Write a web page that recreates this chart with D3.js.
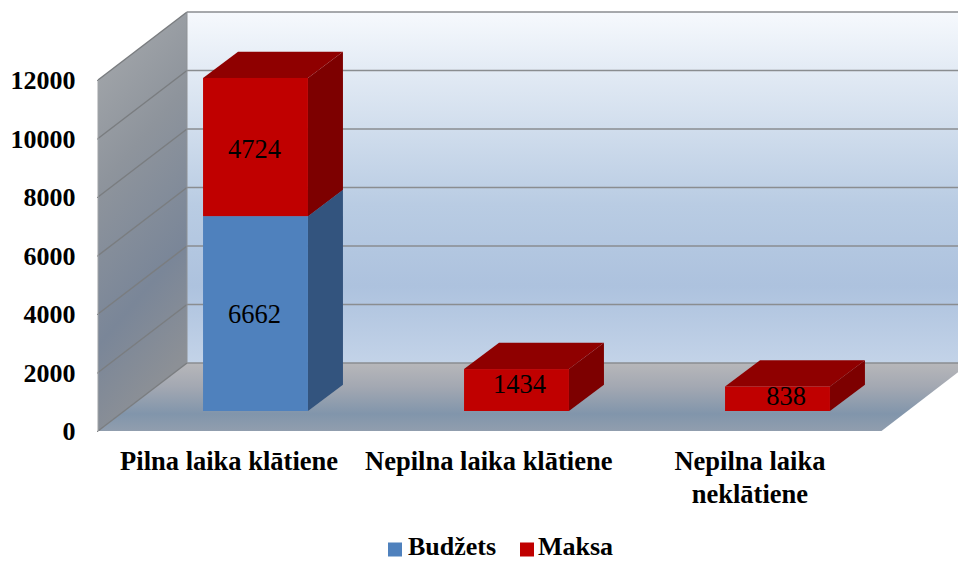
<!DOCTYPE html>
<html><head><meta charset="utf-8">
<script src="https://cdn.jsdelivr.net/npm/d3@7"></script>
<style>html,body{margin:0;padding:0;background:#fff}svg{display:block}text{font-family:"Liberation Serif",serif}</style>
</head><body><svg id="c" width="958" height="561"></svg>
<script>
const categories = [["Pilna laika klātiene"],["Nepilna laika klātiene"],["Nepilna laika","neklātiene"]];
const budzets = [6662, 0, 0];
const maksa = [4724, 1434, 838];
const tickValues = [0,2000,4000,6000,8000,10000,12000];
const seriesNames = ["Budžets","Maksa"];
const seriesColors = {front:["#4f81bd","#c00000"],top:["#3a6090","#8f0000"],side:["#33547e","#7d0000"]};

const svg = d3.select("#c"), defs = svg.append("defs");
const W = 958;
const D = {dx:89, dy:-68};          // full floor depth
const B = {dx:35, dy:-26.3};        // bar depth
const x0 = 98, floorY = 431, barBase = 411, barLeft = 125;
const y = d3.scaleLinear().domain([0,12000]).range([floorY,80]);
const h = v => y(0)-y(v);
const xb = d3.scaleBand().domain(d3.range(categories.length)).range([barLeft,barLeft+783]).paddingInner(0.598).paddingOuter(0.299);
const backX = x0+D.dx, backY0 = floorY+D.dy, backRight = 970;
const pts = a => a.map(p=>p.join(",")).join(" ");

function grad(id,stops,x1=0,y1=0,x2=0,y2=1){
  const g=defs.append("linearGradient").attr("id",id).attr("x1",x1).attr("y1",y1).attr("x2",x2).attr("y2",y2);
  stops.forEach(([o,c])=>g.append("stop").attr("offset",o).attr("stop-color",c));
}
grad("back",[[0,"#f6f9fd"],[.2,"#dfe8f3"],[.55,"#b9cce3"],[.78,"#adc2de"],[1,"#c3d3e8"]]);
grad("left",[[0,"#a8abae"],[.4,"#8e949c"],[.75,"#7a8698"],[1,"#8c9096"]],0,0,.25,1);
grad("floor",[[0,"#b7b7ba"],[.35,"#a3a8b2"],[.75,"#8195ab"],[1,"#919eae"]]);

// back wall
svg.append("polygon").attr("points",pts([[backX,backY0-h(12000)],[backRight,backY0-h(12000)],[backRight,backY0],[backX,backY0]])).attr("fill","url(#back)");
// floor
svg.append("polygon").attr("points",pts([[x0,floorY],[backX,backY0],[backRight,backY0],[881.5,floorY]])).attr("fill","url(#floor)");
// left wall
svg.append("polygon").attr("points",pts([[x0,y(12000)],[backX,y(12000)+D.dy],[backX,backY0],[x0,floorY]])).attr("fill","url(#left)");

// gridlines
const grid = svg.append("g");
tickValues.forEach(t=>{
  const yy=y(t), by=yy+D.dy;
  grid.append("line").attr("x1",x0).attr("y1",yy).attr("x2",backX).attr("y2",by).attr("stroke","#7a7d80").attr("stroke-width",1.5);
  grid.append("line").attr("x1",backX).attr("y1",by).attr("x2",W).attr("y2",by).attr("stroke","#8a8d90").attr("stroke-width",1.6);
});
grid.append("line").attr("x1",backX).attr("y1",y(12000)+D.dy).attr("x2",backX).attr("y2",backY0).attr("stroke","#8f9296").attr("stroke-width",1);
grid.append("line").attr("x1",x0).attr("y1",y(12000)).attr("x2",x0).attr("y2",floorY).attr("stroke","#a0a3a6").attr("stroke-width",1);

// axis
const axis = svg.append("g").attr("transform",`translate(${x0},0)`)
  .call(d3.axisLeft(y).tickValues(tickValues).tickFormat(d3.format("d")).tickSize(1).tickPadding(21.5));
axis.select(".domain").remove();
axis.selectAll("line").attr("stroke","#85888b");
axis.selectAll("text").attr("font-size",26).attr("font-weight","bold").attr("fill","#000").attr("dy","0.33em").style("font-family",'"Liberation Serif",serif');

// bars
function box(g,x,w,yTop,yBot,s){
  g.append("polygon").attr("points",pts([[x+w,yBot],[x+w+B.dx,yBot+B.dy],[x+w+B.dx,yTop+B.dy],[x+w,yTop]])).attr("fill",seriesColors.side[s]);
  g.append("polygon").attr("points",pts([[x,yTop],[x+B.dx,yTop+B.dy],[x+w+B.dx,yTop+B.dy],[x+w,yTop]])).attr("fill",seriesColors.top[s]);
  g.append("rect").attr("x",x).attr("y",yTop).attr("width",w).attr("height",yBot-yTop).attr("fill",seriesColors.front[s]);
}
const bars = svg.append("g");
categories.forEach((c,i)=>{
  let acc=0;
  [budzets,maksa].forEach((arr,s)=>{
    const v=arr[i]; if(!v) return;
    box(bars,xb(i),xb.bandwidth(),barBase-h(acc+v),barBase-h(acc),s);
    acc+=v;
  });
});
// value labels: hand-placed nudges as in the original
const nudge = {6662:[-1,9.5],4724:[-1,10.6],1434:[3,3],838:[8.5,6]};
categories.forEach((c,i)=>{
  let acc=0;
  [budzets,maksa].forEach((arr)=>{
    const v=arr[i]; if(!v) return;
    const mid=barBase-h(acc+v/2), n=nudge[v];
    svg.append("text").attr("x",xb(i)+xb.bandwidth()/2+n[0]).attr("y",mid+n[1]).attr("text-anchor","middle").attr("font-size",26.5).attr("fill","#000").text(v);
    acc+=v;
  });
});
// category labels
const catX = d3.scaleBand().domain(d3.range(categories.length)).range([98,881.5]);
categories.forEach((lines,i)=>{
  lines.forEach((l,j)=>{
    svg.append("text").attr("x",catX(i)+catX.bandwidth()/2+(i?-1:0.5)).attr("y",469.5+j*33).attr("text-anchor","middle").attr("font-size",26.5).attr("font-weight","bold").attr("fill","#000").text(l);
  });
});
// legend
const lx=[388,520], tx=[408,538];
seriesNames.forEach((n,s)=>{
  svg.append("rect").attr("x",lx[s]).attr("y",542.5).attr("width",14).attr("height",14).attr("fill",seriesColors.front[s]);
  svg.append("text").attr("x",tx[s]).attr("y",555.3).attr("font-size",26).attr("font-weight","bold").attr("fill","#000").text(n);
});
</script></body></html>
